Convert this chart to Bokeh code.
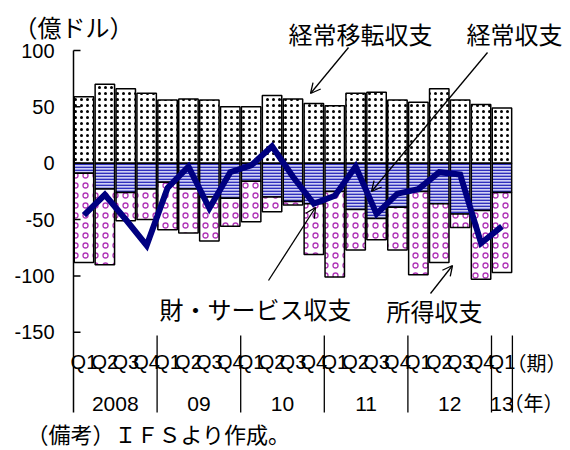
import numpy as np
from bokeh.plotting import figure
from bokeh.models import ColumnDataSource, Label, Arrow, OpenHead, Range1d
from bokeh.core.properties import value
from bokeh.embed import file_html
from bokeh.resources import INLINE

# ---- data (億ドル, quarterly 2008Q1 - 2013Q1) ----
quarters = ["Q1", "Q2", "Q3", "Q4"] * 5 + ["Q1"]
years = ["2008", "09", "10", "11", "12", "13"]
year_pos = [1.5, 5.5, 9.5, 13.5, 17.5, 20.0]
year_breaks = [3.5, 7.5, 11.5, 15.5, 19.5, 20.5]
transfers = [59, 70, 66, 62, 56, 57, 56, 50, 50, 60, 57, 53, 51, 62, 63, 56, 54, 66, 56, 52, 49]   # 経常移転収支
income = [-9, -23, -26, -23, -17, -23, -30, -31, -16, -30, -34, -36, -25, -41, -49, -39, -25, -36, -45, -42, -26]  # 所得収支
goods = [-79, -67, -25, -27, -42, -39, -39, -25, -36, -13, -3, -45, -76, -36, -19, -38, -74, -52, -12, -61, -71]    # 財・サービス収支
current = [-46, -28, -50, -73, -22, -3, -40, -8, -2, 15, -12, -36, -29, -3, -45, -27, -23, -8, -10, -71, -56]     # 経常収支
y_ticks = [-150, -100, -50, 0, 50, 100]
y_tick_labels = ["-150", "-100", "-50", "0", "50", "100"]

x = np.arange(len(quarters))
inc = np.array(income, dtype=float)
gds = np.array(goods, dtype=float)

src = ColumnDataSource(dict(
    x=x, transfers=transfers, zero=np.zeros(len(x)),
    inc=inc, gbot=inc + gds, current=current, q=quarters,
))

# layout helpers (canvas pixel -> data) for placing axis furniture and notes
FL, SLOT, FT, PPU = 73.0, 20.9, 50.0, 1.127
def fx(px):
    return (px - FL) / SLOT - 0.5
def fy(py):
    return 100 - (py - FT) / PPU

W_PX, H_PX = 570, 450
p = figure(width=W_PX, height=H_PX, output_backend="svg", toolbar_location=None,
           x_range=Range1d(fx(0), fx(W_PX)), y_range=Range1d(fy(H_PX), fy(0)),
           x_axis_location=None, y_axis_location=None,
           min_border=0, min_border_left=0, min_border_right=0,
           min_border_top=0, min_border_bottom=0)
p.outline_line_color = None
p.xgrid.visible = False
p.ygrid.visible = False
p.background_fill_color = "white"
p.border_fill_color = "white"

W = 0.93
p.vbar(x="x", bottom="zero", top="transfers", width=W, source=src,
       fill_color="white", hatch_pattern="dot", hatch_color="black",
       hatch_scale=6, hatch_weight=0.8, line_color="black", line_width=1.5)
p.vbar(x="x", bottom="inc", top="zero", width=W, source=src,
       fill_color="#d0d0f4", hatch_pattern="horizontal_line", hatch_color="#3030bc",
       hatch_scale=3, hatch_weight=1.7, line_color="black", line_width=1.5)
p.vbar(x="x", bottom="gbot", top="inc", width=W, source=src,
       fill_color="white", hatch_pattern="ring", hatch_color="#b035b8",
       hatch_scale=10, hatch_weight=1.3, line_color="black", line_width=1.5)

p.line(x="x", y="current", source=src, line_color="#000080", line_width=6, line_join="miter")

# ---- value axis (left) ----
y_bot = fy(412)
p.segment(x0=[-0.5], y0=[100], x1=[-0.5], y1=[y_bot], line_color="black", line_width=1.5)
p.segment(x0=[-0.5] * len(y_ticks), y0=y_ticks, x1=[fx(80)] * len(y_ticks), y1=y_ticks,
          line_color="black", line_width=1.5)
p.text(x=[fx(54)] * len(y_ticks), y=y_ticks, text=y_tick_labels, text_align="right",
       text_baseline="middle", text_font=value("Liberation Sans"),
       text_font_size="20px", text_color="black")

# ---- category axis area ----
p.segment(x0=year_breaks, y0=[fy(335)] * len(year_breaks), x1=year_breaks,
          y1=[y_bot] * len(year_breaks), line_color="black", line_width=1.3)
p.text(x="x", y=fy(361.5), text="q", source=src, text_align="center",
       text_baseline="middle", text_font=value("'Liberation Sans Narrow', 'Liberation Sans'"),
       text_font_size="20px", text_color="black")
p.text(x=year_pos, y=[fy(403)] * len(years), text=years, text_align="center",
       text_baseline="middle", text_font=value("Liberation Sans"),
       text_font_size="21px", text_color="black")

CJK = "Noto Sans CJK JP"
def lab(text, px, py, size, align="left"):
    p.add_layout(Label(x=fx(px), y=fy(py), text=text, text_align=align,
                       text_baseline="middle", text_font=CJK,
                       text_font_size=size, text_color="black"))

lab("（億ドル）", 13, 26, "24px")
lab("経常移転収支", 288, 33, "24px")
lab("経常収支", 466, 33, "24px")
lab("財・サービス収支", 159, 308, "24px")
lab("所得収支", 386, 310, "24px")
lab("（期）", 506, 362, "20px")
lab("（年）", 503, 402, "20px")
lab("（備考）ＩＦＳより作成。", 26, 432, "22px")

for (x0, y0, x1, y1) in [(348, 47, 310, 93), (487, 52, 371, 191),
                         (268, 280, 315, 207), (430, 293, 452, 265)]:
    p.add_layout(Arrow(end=OpenHead(size=10, line_width=1.3, line_color="black"),
                       x_start=fx(x0), y_start=fy(y0), x_end=fx(x1), y_end=fy(y1),
                       line_color="black", line_width=1.3))

open("out.html", "w").write(file_html(p, INLINE))
